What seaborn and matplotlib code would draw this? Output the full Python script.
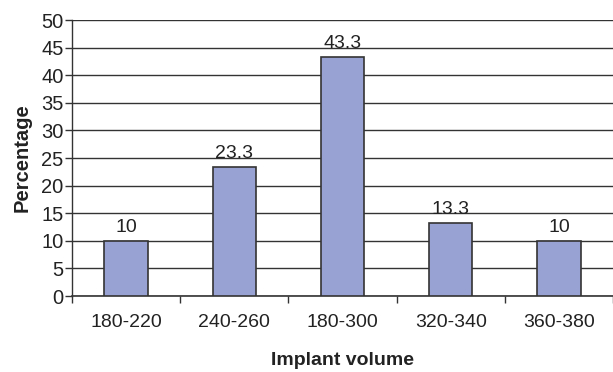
import matplotlib
matplotlib.use("Agg")
import matplotlib.pyplot as plt
import seaborn as sns
import pandas as pd
import numpy as np

categories = ["180-220", "240-260", "180-300", "320-340", "360-380"]
values = [10, 23.3, 43.3, 13.3, 10]
value_labels = ["10", "23.3", "43.3", "13.3", "10"]
y_ticks = [0, 5, 10, 15, 20, 25, 30, 35, 40, 45, 50]

sns.set_style("white")
plt.rcParams['font.family'] = ['Liberation Sans', 'DejaVu Sans']

df = pd.DataFrame({"cat": categories, "val": values})

fig = plt.figure(figsize=(6.13, 3.72), dpi=100)
ax = fig.add_axes([72/613, 1 - 296/372, 541/613, (296 - 20)/372])

sns.barplot(data=df, x="cat", y="val", color="#99A3D3", edgecolor="#333333",
            linewidth=1.2, width=0.4, saturation=1, ax=ax, zorder=3)

ax.set_ylim(0, 50)
ax.set_xlim(-0.5, 4.5)
ax.set_yticks(y_ticks)
ax.yaxis.grid(True, color="#333333", linewidth=1.0, zorder=0)
ax.set_axisbelow(True)
for s in ["top", "right"]:
    ax.spines[s].set_visible(False)
ax.spines["left"].set_color("#333333")
ax.spines["bottom"].set_color("#333333")
ax.spines["left"].set_linewidth(1.0)
ax.spines["bottom"].set_linewidth(1.2)

ax.tick_params(axis="y", length=5, width=1, color="#333333", labelsize=14.5, pad=1, left=True,
               labelcolor="#222222")
ax.tick_params(axis="x", which="major", length=0, labelsize=14, pad=13, labelcolor="#222222")
ax.set_xticks(np.arange(-0.5, 4.6, 1.0), minor=True)
ax.tick_params(axis="x", which="minor", length=5, width=1, color="#333333", bottom=True)

for i, (v, lab) in enumerate(zip(values, value_labels)):
    ax.text(i, v + 0.9, lab, ha="center", va="bottom", fontsize=14, color="#222222")

ax.set_xlabel("Implant volume", fontsize=14, fontweight="bold", labelpad=15, color="#222222")
ax.set_ylabel("Percentage", fontsize=14.5, fontweight="bold", color="#222222")
ax.yaxis.set_label_coords(-0.075, 0.5)

fig.savefig("out.png", dpi=100)
